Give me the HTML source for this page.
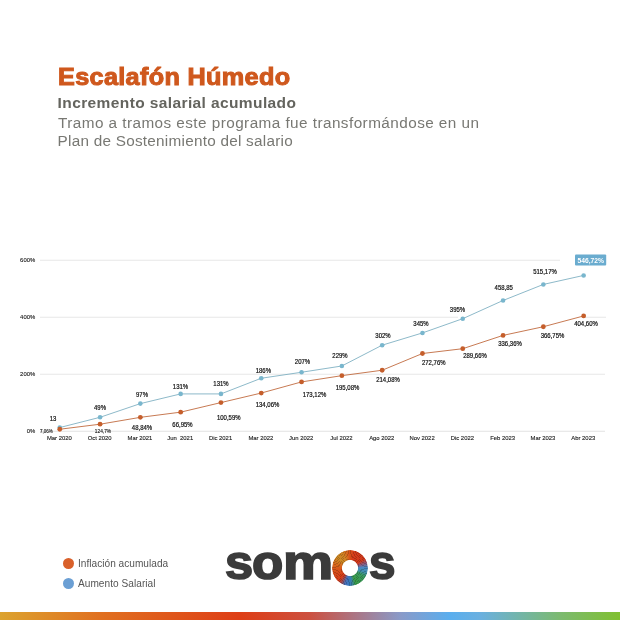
<!DOCTYPE html>
<html lang="es"><head><meta charset="utf-8"><title>Escalafón Húmedo</title>
<style>
html,body{margin:0;padding:0;background:#fff;}
body{width:620px;height:620px;position:relative;overflow:hidden;font-family:"Liberation Sans",sans-serif;}
.abs{position:absolute;white-space:nowrap;line-height:1;margin:0;}
h1.abs{left:58.4px;top:65.5px;font-size:23.0px;font-weight:bold;color:#cf581d;letter-spacing:0.3px;-webkit-text-stroke:1px #cf581d;transform:scaleX(1.097);transform-origin:0 0;}
h2.abs{left:57.6px;top:94.6px;font-size:15.5px;font-weight:bold;color:#64645e;letter-spacing:0.39px;}
p.l1{left:58px;top:115.2px;font-size:15.3px;color:#787873;letter-spacing:0.445px;}
p.l2{left:57.6px;top:132.7px;font-size:15.3px;color:#787873;letter-spacing:0.25px;}
.chart{position:absolute;left:0;top:0;}
.chart text{font-family:"Liberation Sans",sans-serif;fill:#222;}
.ax{font-size:5.9px;fill:#1c1c1c !important;stroke:#1c1c1c;stroke-width:0.12px;}
.dl{font-size:6.5px;fill:#111 !important;stroke:#111;stroke-width:0.2px;}
.sm{font-size:4.5px;fill:#111 !important;stroke:#111;stroke-width:0.1px;}
.bd{font-size:6.7px;font-weight:bold;fill:#fff !important;}
.dot{position:absolute;width:11px;height:11px;border-radius:50%;}
.lg{font-size:10.1px;color:#555;left:78px;}
.logo{position:absolute;top:538.1px;font-weight:bold;font-size:48.4px;color:#3b3b3b;line-height:1;white-space:nowrap;-webkit-text-stroke:1.7px #3b3b3b;transform-origin:0 0;}
.ring{position:absolute;left:331.5px;top:549.5px;width:36.6px;height:36.6px;border-radius:50%;
background:repeating-conic-gradient(from 0deg, rgba(0,0,0,0.18) 0deg 2deg, rgba(0,0,0,0) 2deg 6deg),
conic-gradient(from 0deg, #d8501a 0deg, #d63c1a 15deg, #d0381c 58deg, #8a5a80 74deg, #4a88c4 88deg, #4290b0 105deg, #3a9a60 120deg, #3a9a48 160deg, #3a80a8 174deg, #3878c0 185deg, #4a70b8 198deg, #a04a50 210deg, #d63c1a 222deg, #d8501a 260deg, #d86a1c 285deg, #cc8a26 310deg, #d08022 335deg, #d8641c 350deg, #d8501a 360deg);
-webkit-mask:radial-gradient(circle closest-side, transparent 0, transparent 7.6px, #000 8.4px, #000 17.6px, transparent 18.4px);
mask:radial-gradient(circle closest-side, transparent 0, transparent 7.6px, #000 8.4px, #000 17.6px, transparent 18.4px);}
.bar{position:absolute;left:0;top:612px;width:620px;height:8px;background:linear-gradient(to right,#dca32f 0px,#e07020 100px,#de3e16 240px,#cc5040 310px,#8a9ac8 400px,#5aaeee 450px,#6ab0e0 480px,#7cba70 560px,#80c030 620px);}
</style></head><body>
<h1 class="abs">Escalafón Húmedo</h1>
<h2 class="abs">Incremento salarial acumulado</h2>
<p class="abs l1">Tramo a tramos este programa fue transformándose en un</p>
<p class="abs l2">Plan de Sostenimiento del salario</p>
<svg class="chart" width="620" height="620" viewBox="0 0 620 620">
<rect x="40" y="373.75" width="565" height="1" fill="#e7e7e7"/>
<rect x="40" y="316.75" width="418" height="1" fill="#e7e7e7"/>
<rect x="585" y="316.75" width="21" height="1" fill="#e7e7e7"/>
<rect x="40" y="259.75" width="520" height="1" fill="#e7e7e7"/>
<rect x="40" y="430.75" width="565" height="1" fill="#e2e2e2"/>
<text x="35.2" y="433.35" text-anchor="end" class="ax">0%</text>
<text x="35.2" y="376.35" text-anchor="end" class="ax">200%</text>
<text x="35.2" y="319.35" text-anchor="end" class="ax">400%</text>
<text x="35.2" y="262.35" text-anchor="end" class="ax">600%</text>
<text x="59.35" y="440.0" text-anchor="middle" class="ax">Mar 2020</text>
<text x="99.65" y="440.0" text-anchor="middle" class="ax">Oct 2020</text>
<text x="139.95" y="440.0" text-anchor="middle" class="ax">Mar 2021</text>
<text x="180.25" y="440.0" text-anchor="middle" class="ax">Jun&#160; 2021</text>
<text x="220.55" y="440.0" text-anchor="middle" class="ax">Dic 2021</text>
<text x="260.85" y="440.0" text-anchor="middle" class="ax">Mar 2022</text>
<text x="301.15" y="440.0" text-anchor="middle" class="ax">Jun 2022</text>
<text x="341.45" y="440.0" text-anchor="middle" class="ax">Jul 2022</text>
<text x="381.75" y="440.0" text-anchor="middle" class="ax">Ago 2022</text>
<text x="422.05" y="440.0" text-anchor="middle" class="ax">Nov 2022</text>
<text x="462.35" y="440.0" text-anchor="middle" class="ax">Dic 2022</text>
<text x="502.65" y="440.0" text-anchor="middle" class="ax">Feb 2023</text>
<text x="542.95" y="440.0" text-anchor="middle" class="ax">Mar 2023</text>
<text x="583.25" y="440.0" text-anchor="middle" class="ax">Abr 2023</text>
<polyline points="59.75,427.55 100.05,417.29 140.35,403.61 180.65,393.92 220.95,393.92 261.25,378.24 301.55,372.25 341.85,365.99 382.15,345.18 422.45,332.93 462.75,318.68 503.05,300.48 543.35,284.43 583.65,275.43" fill="none" stroke="#78acbf" stroke-width="0.85"/>
<polyline points="59.75,429.24 100.05,424.21 140.35,417.33 180.65,412.17 220.95,402.58 261.25,393.04 301.55,381.91 341.85,375.65 382.15,370.24 422.45,353.51 462.75,348.70 503.05,335.39 543.35,326.73 583.65,315.94" fill="none" stroke="#bd6234" stroke-width="0.85"/>
<circle cx="59.75" cy="427.55" r="2.3" fill="#79b6cd"/>
<circle cx="100.05" cy="417.29" r="2.3" fill="#79b6cd"/>
<circle cx="140.35" cy="403.61" r="2.3" fill="#79b6cd"/>
<circle cx="180.65" cy="393.92" r="2.3" fill="#79b6cd"/>
<circle cx="220.95" cy="393.92" r="2.3" fill="#79b6cd"/>
<circle cx="261.25" cy="378.24" r="2.3" fill="#79b6cd"/>
<circle cx="301.55" cy="372.25" r="2.3" fill="#79b6cd"/>
<circle cx="341.85" cy="365.99" r="2.3" fill="#79b6cd"/>
<circle cx="382.15" cy="345.18" r="2.3" fill="#79b6cd"/>
<circle cx="422.45" cy="332.93" r="2.3" fill="#79b6cd"/>
<circle cx="462.75" cy="318.68" r="2.3" fill="#79b6cd"/>
<circle cx="503.05" cy="300.48" r="2.3" fill="#79b6cd"/>
<circle cx="543.35" cy="284.43" r="2.3" fill="#79b6cd"/>
<circle cx="583.65" cy="275.43" r="2.3" fill="#79b6cd"/>
<circle cx="59.75" cy="429.24" r="2.4" fill="#c55e2b"/>
<circle cx="100.05" cy="424.21" r="2.4" fill="#c55e2b"/>
<circle cx="140.35" cy="417.33" r="2.4" fill="#c55e2b"/>
<circle cx="180.65" cy="412.17" r="2.4" fill="#c55e2b"/>
<circle cx="220.95" cy="402.58" r="2.4" fill="#c55e2b"/>
<circle cx="261.25" cy="393.04" r="2.4" fill="#c55e2b"/>
<circle cx="301.55" cy="381.91" r="2.4" fill="#c55e2b"/>
<circle cx="341.85" cy="375.65" r="2.4" fill="#c55e2b"/>
<circle cx="382.15" cy="370.24" r="2.4" fill="#c55e2b"/>
<circle cx="422.45" cy="353.51" r="2.4" fill="#c55e2b"/>
<circle cx="462.75" cy="348.70" r="2.4" fill="#c55e2b"/>
<circle cx="503.05" cy="335.39" r="2.4" fill="#c55e2b"/>
<circle cx="543.35" cy="326.73" r="2.4" fill="#c55e2b"/>
<circle cx="583.65" cy="315.94" r="2.4" fill="#c55e2b"/>
<text transform="translate(53,421.45) scale(0.92,1)" text-anchor="middle" class="dl">13</text>
<text transform="translate(100,409.70) scale(0.92,1)" text-anchor="middle" class="dl">49%</text>
<text transform="translate(142,397.20) scale(0.92,1)" text-anchor="middle" class="dl">97%</text>
<text transform="translate(180.5,389.40) scale(0.92,1)" text-anchor="middle" class="dl">131%</text>
<text transform="translate(221,385.80) scale(0.92,1)" text-anchor="middle" class="dl">131%</text>
<text transform="translate(263.3,372.70) scale(0.92,1)" text-anchor="middle" class="dl">186%</text>
<text transform="translate(302.5,364.40) scale(0.92,1)" text-anchor="middle" class="dl">207%</text>
<text transform="translate(340,358.20) scale(0.92,1)" text-anchor="middle" class="dl">229%</text>
<text transform="translate(383,338.20) scale(0.92,1)" text-anchor="middle" class="dl">302%</text>
<text transform="translate(421,325.70) scale(0.92,1)" text-anchor="middle" class="dl">345%</text>
<text transform="translate(457.5,312.20) scale(0.92,1)" text-anchor="middle" class="dl">395%</text>
<text transform="translate(503.75,290.20) scale(0.92,1)" text-anchor="middle" class="dl">458,85</text>
<text transform="translate(545,273.60) scale(0.92,1)" text-anchor="middle" class="dl">515,17%</text>
<text transform="translate(142,429.70) scale(0.92,1)" text-anchor="middle" class="dl">48,84%</text>
<text transform="translate(182.5,426.90) scale(0.92,1)" text-anchor="middle" class="dl">66,95%</text>
<text transform="translate(228.75,419.70) scale(0.92,1)" text-anchor="middle" class="dl">100,59%</text>
<text transform="translate(267.5,407.20) scale(0.92,1)" text-anchor="middle" class="dl">134,06%</text>
<text transform="translate(314.5,396.70) scale(0.92,1)" text-anchor="middle" class="dl">173,12%</text>
<text transform="translate(347.5,389.70) scale(0.92,1)" text-anchor="middle" class="dl">195,08%</text>
<text transform="translate(388,382.00) scale(0.92,1)" text-anchor="middle" class="dl">214,08%</text>
<text transform="translate(433.75,364.70) scale(0.92,1)" text-anchor="middle" class="dl">272,76%</text>
<text transform="translate(475,357.70) scale(0.92,1)" text-anchor="middle" class="dl">289,66%</text>
<text transform="translate(510,346.45) scale(0.92,1)" text-anchor="middle" class="dl">336,36%</text>
<text transform="translate(552.5,338.20) scale(0.92,1)" text-anchor="middle" class="dl">366,75%</text>
<text transform="translate(586,325.70) scale(0.92,1)" text-anchor="middle" class="dl">404,60%</text>
<text x="46.4" y="432.9" text-anchor="middle" class="sm">7,06%</text>
<text x="103" y="433" text-anchor="middle" class="sm" style="font-size:4.8px">124,7%</text>
<rect x="575" y="254.5" width="31.2" height="11" rx="1" fill="#6aaccf"/>
<text x="590.8" y="262.5" text-anchor="middle" class="bd">546,72%</text>
</svg>
<div class="dot" style="left:62.75px;top:558.25px;background:#d9602a"></div>
<div class="dot" style="left:62.75px;top:578.25px;background:#6b9fd4"></div>
<div class="abs lg" style="top:559.3px;letter-spacing:0.02px">Inflación acumulada</div>
<div class="abs lg" style="top:579.3px;letter-spacing:0.04px">Aumento Salarial</div>
<div class="logo" style="left:224.51px;transform:scaleX(1.046)">s</div>
<div class="logo" style="left:252.17px;transform:scaleX(1.058)">o</div>
<div class="logo" style="left:283.0px;transform:scaleX(1.167)">m</div>
<div class="ring"></div>
<div class="logo" style="left:368.96px;transform:scaleX(0.9855)">s</div>
<div class="bar"></div>
</body></html>
